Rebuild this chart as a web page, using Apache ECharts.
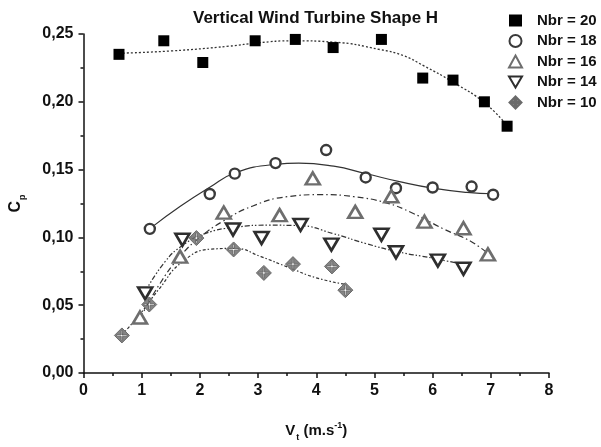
<!DOCTYPE html>
<html><head><meta charset="utf-8">
<script src="https://cdn.jsdelivr.net/npm/echarts@6/dist/echarts.min.js"></script>
<style>html,body{margin:0;padding:0;background:#fff}#c{width:601px;height:447px}</style>
</head><body><div id="c"></div>
<script>
const titleText = 'Vertical Wind Turbine Shape H';
const seriesNames = ['Nbr = 20', 'Nbr = 18', 'Nbr = 16', 'Nbr = 14', 'Nbr = 10'];

const nbr20X = [0.61, 1.38, 2.05, 2.95, 3.64, 4.29, 5.12, 5.83, 6.35, 6.89, 7.28];
const nbr20Y = [0.235, 0.245, 0.229, 0.245, 0.246, 0.240, 0.246, 0.2175, 0.216, 0.200, 0.182];
const fit20X = [0.61, 1.5, 2.5, 3.0, 3.6, 4.3, 5.1, 5.5, 5.85, 6.35, 6.9, 7.28];
const fit20Y = [0.2358, 0.2375, 0.241, 0.2435, 0.245, 0.244, 0.2385, 0.234, 0.2265, 0.2145, 0.199, 0.1824];

const nbr18X = [1.14, 2.17, 2.60, 3.30, 4.17, 4.85, 5.37, 6.00, 6.67, 7.04];
const nbr18Y = [0.1063, 0.132, 0.147, 0.1548, 0.1644, 0.1442, 0.1363, 0.1368, 0.1375, 0.1315];
const fit18X = [1.17, 1.67, 2.17, 2.6, 3.3, 3.7, 4.3, 4.85, 5.43, 6.0, 6.59, 7.04];
const fit18Y = [0.1074, 0.1231, 0.137, 0.1475, 0.1539, 0.1548, 0.1525, 0.1471, 0.1411, 0.1363, 0.1332, 0.1322];

const nbr16X = [0.97, 1.66, 2.41, 3.37, 3.94, 4.67, 5.29, 5.86, 6.53, 6.95];
const nbr16Y = [0.0409, 0.0858, 0.1183, 0.1164, 0.1435, 0.1188, 0.1303, 0.1116, 0.1067, 0.0875];
const fit16X = [0.97, 1.3, 1.66, 2.0, 2.4, 2.9, 3.5, 4.1, 4.65, 5.2, 5.65, 6.2, 6.66, 6.95];
const fit16Y = [0.040, 0.065, 0.086, 0.100, 0.112, 0.123, 0.130, 0.1315, 0.130, 0.1255, 0.118, 0.106, 0.097, 0.088];

const nbr14X = [1.06, 1.70, 2.57, 3.06, 3.73, 4.26, 5.12, 5.37, 6.09, 6.53];
const nbr14Y = [0.0587, 0.0983, 0.1058, 0.0995, 0.1092, 0.0947, 0.102, 0.089, 0.0829, 0.0769];
const fit14X = [1.06, 1.4, 1.7, 2.1, 2.6, 3.2, 3.7, 4.3, 4.85, 5.4, 6.0, 6.53];
const fit14Y = [0.060, 0.082, 0.094, 0.103, 0.1074, 0.109, 0.1087, 0.1027, 0.0955, 0.0894, 0.0847, 0.080];

const nbr10X = [0.66, 1.13, 1.94, 2.58, 3.10, 3.60, 4.27, 4.50];
const nbr10Y = [0.0277, 0.0505, 0.0995, 0.0911, 0.0738, 0.0803, 0.0786, 0.0611];
const fit10X = [0.66, 1.0, 1.3, 1.7, 2.2, 2.6, 3.05, 3.55, 4.0, 4.5];
const fit10Y = [0.028, 0.045, 0.062, 0.082, 0.0914, 0.0919, 0.0858, 0.0774, 0.0702, 0.0654];

const pairs = (xs, ys) => xs.map((x, i) => [x, ys[i]]);
const FONT = 'Liberation Sans, Arial, sans-serif';
const diamondCross = 'path://M0,-10L10,0L0,10L-10,0Z M-1,-7L-1,-1L-7,-1L-7,1L-1,1L-1,7L1,7L1,1L7,1L7,-1L1,-1L1,-7Z';
const triDown = 'path://M-10,0L10,0L0,17Z';

function fitLine(xs, ys, type, width) {
  return {
    type: 'line', data: pairs(xs, ys), showSymbol: false, smooth: true, silent: true, z: 1,
    lineStyle: { color: '#333', width: width, type: type }
  };
}

const chart = echarts.init(document.getElementById('c'), null, { renderer: 'canvas' });
chart.setOption({
  animation: false,
  backgroundColor: '#fff',
  title: {
    text: titleText, left: 188, top: 5,
    textStyle: { fontFamily: FONT, fontSize: 17, fontWeight: 'bold', color: '#111' }
  },
  legend: {
    orient: 'vertical', left: 503, top: 8, itemWidth: 13, itemHeight: 12, itemGap: 5.5,
    data: [
      { name: seriesNames[0], icon: 'rect', itemStyle: { color: '#000' } },
      { name: seriesNames[1], icon: 'circle' },
      { name: seriesNames[2], icon: 'triangle' },
      { name: seriesNames[3], icon: triDown },
      { name: seriesNames[4], icon: diamondCross }
    ],
    textStyle: { fontFamily: FONT, fontSize: 15, fontWeight: 'bold', color: '#111', padding: [0, 0, 0, 10] }
  },
  grid: { left: 83, top: 34, right: 52, bottom: 66 },
  xAxis: {
    type: 'value', min: 0, max: 8, interval: 1,
    name: '{n|V}{sub|t}{n| (m.s}{sup|-1}{n|)}', nameLocation: 'middle', nameGap: 46,
    nameTextStyle: {
      rich: {
        n: { fontFamily: FONT, fontSize: 15, fontWeight: 'bold', color: '#111', lineHeight: 22, verticalAlign: 'middle' },
        sub: { fontFamily: FONT, fontSize: 9, fontWeight: 'bold', color: '#111', padding: [14, 0, 0, 1] },
        sup: { fontFamily: FONT, fontSize: 9, fontWeight: 'bold', color: '#111', padding: [0, 0, 10, 0] }
      }
    },
    axisLine: { lineStyle: { color: '#111', width: 1.5 } },
    axisTick: { length: 5, lineStyle: { color: '#111', width: 1.5 } },
    minorTick: { show: true, splitNumber: 2, length: 3, lineStyle: { color: '#111', width: 1.5 } },
    splitLine: { show: false },
    axisLabel: { margin: 10, fontFamily: FONT, fontSize: 16, fontWeight: 'bold', color: '#111' }
  },
  yAxis: {
    type: 'value', min: 0, max: 0.25, interval: 0.05,
    name: '{n|C}{sub|p}', nameLocation: 'middle', nameGap: 56, nameRotate: 90,
    nameTextStyle: {
      rich: {
        n: { fontFamily: FONT, fontSize: 16, fontWeight: 'bold', color: '#111', lineHeight: 22 },
        sub: { fontFamily: FONT, fontSize: 9, fontWeight: 'bold', color: '#111', padding: [14, 0, 0, 1] }
      }
    },
    axisLine: { show: true, lineStyle: { color: '#111', width: 1.5 } },
    axisTick: { show: true, length: 5, lineStyle: { color: '#111', width: 1.5 } },
    minorTick: { show: true, splitNumber: 2, length: 3, lineStyle: { color: '#111', width: 1.5 } },
    splitLine: { show: false },
    axisLabel: {
      margin: 10, fontFamily: FONT, fontSize: 16, fontWeight: 'bold', color: '#111',
      formatter: v => v.toFixed(2).replace('.', ',')
    }
  },
  series: [
    fitLine(fit20X, fit20Y, [2, 2], 1.3),
    fitLine(fit18X, fit18Y, 'solid', 1.2),
    fitLine(fit16X, fit16Y, [6, 3, 1.5, 3], 1.2),
    fitLine(fit14X, fit14Y, [5, 2, 1.5, 2, 1.5, 2], 1.2),
    fitLine(fit10X, fit10Y, [3, 2, 1.5, 2], 1.2),
    { name: seriesNames[0], type: 'scatter', data: pairs(nbr20X, nbr20Y), symbol: 'rect', symbolSize: 11, z: 3,
      itemStyle: { color: '#000', opacity: 1 } },
    { name: seriesNames[1], type: 'scatter', data: pairs(nbr18X, nbr18Y), symbol: 'circle', symbolSize: 10, z: 3,
      itemStyle: { color: '#fff', borderColor: '#3a3a3a', borderWidth: 2.4, opacity: 1 } },
    { name: seriesNames[2], type: 'scatter', data: pairs(nbr16X, nbr16Y), symbol: 'triangle', symbolSize: [14, 12], z: 3,
      itemStyle: { color: '#fff', borderColor: '#6e6e6e', borderWidth: 2.6, opacity: 1 } },
    { name: seriesNames[3], type: 'scatter', data: pairs(nbr14X, nbr14Y), symbol: triDown, symbolSize: [14, 12], z: 3,
      itemStyle: { color: '#fff', borderColor: '#2e2e2e', borderWidth: 2.6, opacity: 1 } },
    { name: seriesNames[4], type: 'scatter', data: pairs(nbr10X, nbr10Y), symbol: diamondCross, symbolSize: 15, z: 3,
      itemStyle: { color: '#858585', borderColor: '#6a6a6a', borderWidth: 1, opacity: 1 } }
  ]
});
</script></body></html>
